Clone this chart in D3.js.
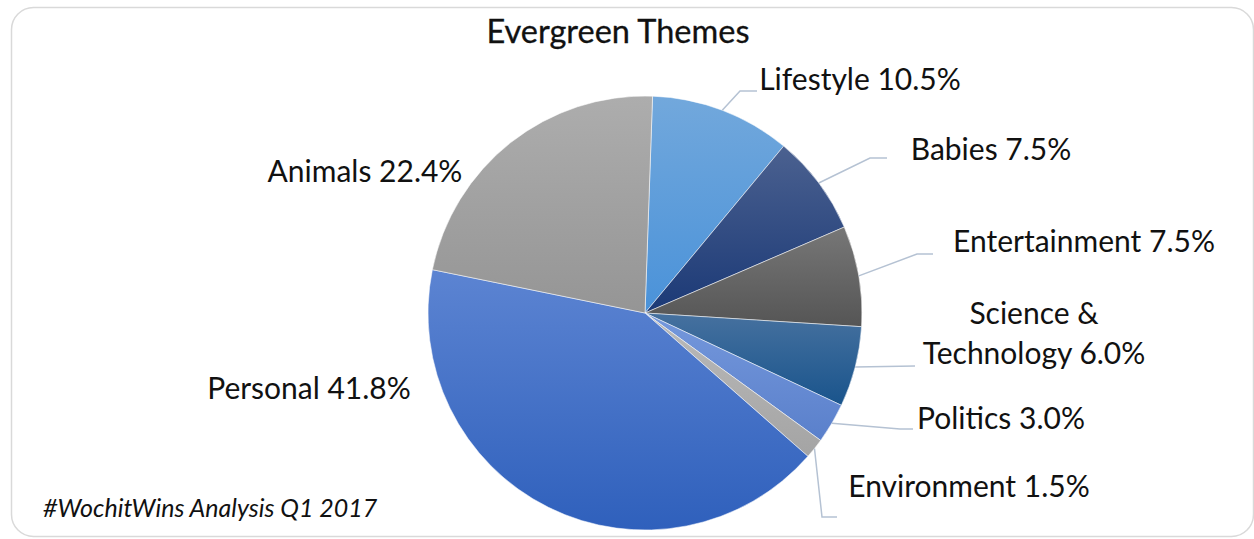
<!DOCTYPE html>
<html>
<head>
<meta charset="utf-8">
<script src="https://cdn.jsdelivr.net/npm/d3@7"></script>
<style>
  html, body { margin: 0; padding: 0; background: #ffffff; }
  svg { display: block; }
  text { font-family: Lato, "Noto Sans", sans-serif; fill: #111111; font-weight: 400; }
</style>
</head>
<body>
<svg id="chart" width="1254" height="539"></svg>
<script>
// Share of evergreen themes (percent), clockwise from 12 o'clock
const categories = ["Lifestyle", "Babies", "Entertainment", "Science & Technology",
                    "Politics", "Environment", "Personal", "Animals"];
const shares = [10.5, 7.5, 7.5, 6.0, 3.0, 1.5, 41.8, 22.4];
const labelLines = [
  ["Lifestyle 10.5%"],
  ["Babies 7.5%"],
  ["Entertainment 7.5%"],
  ["Science &", "Technology 6.0%"],
  ["Politics 3.0%"],
  ["Environment 1.5%"],
  ["Personal 41.8%"],
  ["Animals 22.4%"]
];

// Slice fills: top and bottom stops of each vertical gradient
const fillTop = ["#72a8dc", "#4b6190", "#777777", "#46719f", "#7598dc", "#bababa", "#5c84d2", "#adadad"];
const fillBottom = ["#4a92d9", "#1b3976", "#555555", "#19548c", "#5a80cb", "#a4a4a4", "#2f60bc", "#959595"];

// Label placement: text anchor (centre x, first baseline) and leader bend/end points
const labelLayout = [
  { x: 860, y: 90, leader: [[740, 91], [757, 91]] },
  { x: 991, y: 160, leader: [[870, 158], [887, 158]] },
  { x: 1084, y: 252, leader: [[917, 254], [933, 254]] },
  { x: 1034, y: 324, lh: 40, leader: [[915, 366]] },
  { x: 1001, y: 429, leader: [[900, 429], [913, 429]] },
  { x: 969, y: 497, leader: [[822, 517], [837, 517]] },
  { x: 309, y: 399, leader: null },
  { x: 365, y: 182, leader: null }
];

const svg = d3.select("#chart");

// Rounded chart-area frame
svg.append("rect")
  .attr("x", 11.5).attr("y", 7.5)
  .attr("width", 1242).attr("height", 529)
  .attr("rx", 22).attr("ry", 22)
  .attr("fill", "#ffffff")
  .attr("stroke", "#d9d9d9")
  .attr("stroke-width", 1.5);

// Title (a hairline stroke gives it a medium weight)
svg.append("text")
  .attr("x", 618).attr("y", 43)
  .attr("text-anchor", "middle")
  .style("font-size", "32.5px")
  .style("stroke", "#111111")
  .style("stroke-width", "0.3px")
  .text("Evergreen Themes");

// Footnote
svg.append("text")
  .attr("x", 43).attr("y", 517)
  .style("font-size", "25px")
  .style("font-style", "italic")
  .text("#WochitWins Analysis Q1 2017");

const cx = 645, cy = 313, r = 217;
const startAngle = 2 * Math.PI / 180;

const pie = d3.pie()
  .sort(null)
  .value(d => d)
  .startAngle(startAngle)
  .endAngle(startAngle + 2 * Math.PI);

const arcs = pie(shares);
const arc = d3.arc().innerRadius(0).outerRadius(r);

const defs = svg.append("defs");
arcs.forEach((a, i) => {
  const g = defs.append("linearGradient")
    .attr("id", "slice-grad-" + i)
    .attr("x1", 0).attr("y1", 0).attr("x2", 0).attr("y2", 1);
  g.append("stop").attr("offset", "0%").attr("stop-color", fillTop[i]);
  g.append("stop").attr("offset", "100%").attr("stop-color", fillBottom[i]);
});

const pieG = svg.append("g").attr("transform", `translate(${cx},${cy})`);

pieG.selectAll("path.slice")
  .data(arcs)
  .join("path")
  .attr("class", "slice")
  .attr("d", arc)
  .attr("fill", (d, i) => `url(#slice-grad-${i})`)
  .attr("stroke", "rgba(255,255,255,0.7)")
  .attr("stroke-width", 0.75)
  .attr("stroke-linejoin", "round");

// Leader lines from each slice's outer edge at its mid-angle
const leaderG = svg.append("g");
arcs.forEach((a, i) => {
  const lay = labelLayout[i];
  if (!lay.leader) return;
  const mid = (a.startAngle + a.endAngle) / 2;
  const start = [cx + r * Math.sin(mid), cy - r * Math.cos(mid)];
  const pts = [start].concat(lay.leader);
  leaderG.append("path")
    .attr("d", d3.line()(pts))
    .attr("fill", "none")
    .attr("stroke", "#b5c2d3")
    .attr("stroke-width", 1.5);
});

// Category labels
const labelG = svg.append("g");
labelLines.forEach((lines, i) => {
  const lay = labelLayout[i];
  const t = labelG.append("text")
    .attr("text-anchor", "middle")
    .style("font-size", "30px");
  lines.forEach((ln, j) => {
    t.append("tspan")
      .attr("x", lay.x)
      .attr("y", lay.y + j * (lay.lh || 0))
      .text(ln);
  });
});
</script>
</body>
</html>
